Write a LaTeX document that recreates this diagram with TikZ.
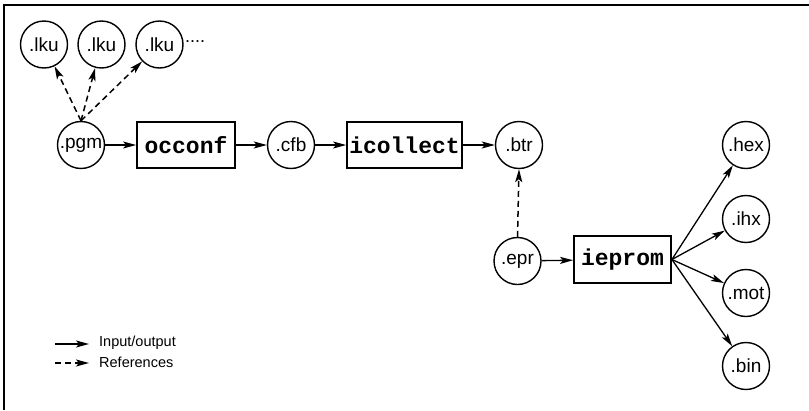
\documentclass[tikz,border=0pt]{standalone}
\usepackage{fontspec}
\setmainfont{Liberation Sans}
\newfontfamily\boxfont{Liberation Mono}
\usetikzlibrary{arrows.meta}
\tikzset{
  file/.style={draw, circle, line width=1.4pt, minimum size=47pt, inner sep=0pt,
    font=\fontsize{19}{21}\selectfont},
  tool/.style={draw, rectangle, line width=1.8pt, inner sep=0pt,
    font=\boxfont\bfseries\fontsize{23}{25}\selectfont},
  io/.style={line width=1.3pt, -{Stealth[length=13pt,width=7pt,inset=3pt]}},
  ref/.style={io, line width=1.5pt, dash pattern=on 6pt off 4pt},
  legtext/.style={anchor=west, inner sep=0pt, font=\fontsize{14.5}{16}\selectfont}
}
\begin{document}
\begin{tikzpicture}[x=1pt,y=-1pt]
\useasboundingbox (0,0) rectangle (809,410);
\draw[line width=1.8pt] (4,410) -- (4,5) -- (809,5);
% file nodes
\node[file] (lku1) at (44,44.5) {.lku};
\node[file] (lku2) at (101.5,44.5) {.lku};
\node[file] (lku3) at (159.5,44.5) {.lku};
\node[anchor=west, inner sep=0pt, font=\fontsize{18}{20}\selectfont] (dots) at (185,44) {\raisebox{0.3em}{....}};
\node[file] (pgm) at (81,145) {.pgm};
\node[tool, minimum width=98pt, minimum height=46pt] (occonf) at (186,145) {occonf};
\node[file] (cfb) at (291,145) {.cfb};
\node[tool, minimum width=115pt, minimum height=46pt] (icollect) at (404.5,145) {icollect};
\node[file] (btr) at (519,145) {.btr};
\node[file] (epr) at (517.5,261) {.epr};
\node[tool, minimum width=97pt, minimum height=47pt] (ieprom) at (622.5,259.5) {ieprom};
\node[file] (hex) at (746,145) {.hex};
\node[file] (ihx) at (746,219) {.ihx};
\node[file] (mot) at (746,293) {.mot};
\node[file] (bin) at (746,366) {.bin};
% references
\draw[ref] (pgm.north) -- (lku1);
\draw[ref] (pgm.north) -- (lku2);
\draw[ref] (pgm.north) -- (lku3);
\draw[ref] (epr.north) -- (btr.south);
% input/output
\draw[io] (pgm) -- (occonf);
\draw[io] (occonf) -- (cfb);
\draw[io] (cfb) -- (icollect);
\draw[io] (icollect) -- (btr);
\draw[io] (epr) -- (ieprom);
\draw[io] (ieprom.east) -- (hex);
\draw[io] (ieprom.east) -- (ihx);
\draw[io] (ieprom.east) -- (mot);
\draw[io] (ieprom.east) -- (bin);
% legend
\coordinate (l1a) at (55,344);
\coordinate (l1b) at (89,344);
\coordinate (l2a) at (55,363);
\coordinate (l2b) at (89,363);
\draw[io] (l1a) -- (l1b);
\draw[ref] (l2a) -- (l2b);
\node[legtext] (t1) at (99,343) {Input/output};
\node[legtext] (t2) at (99,362) {References};
\end{tikzpicture}
\end{document}
